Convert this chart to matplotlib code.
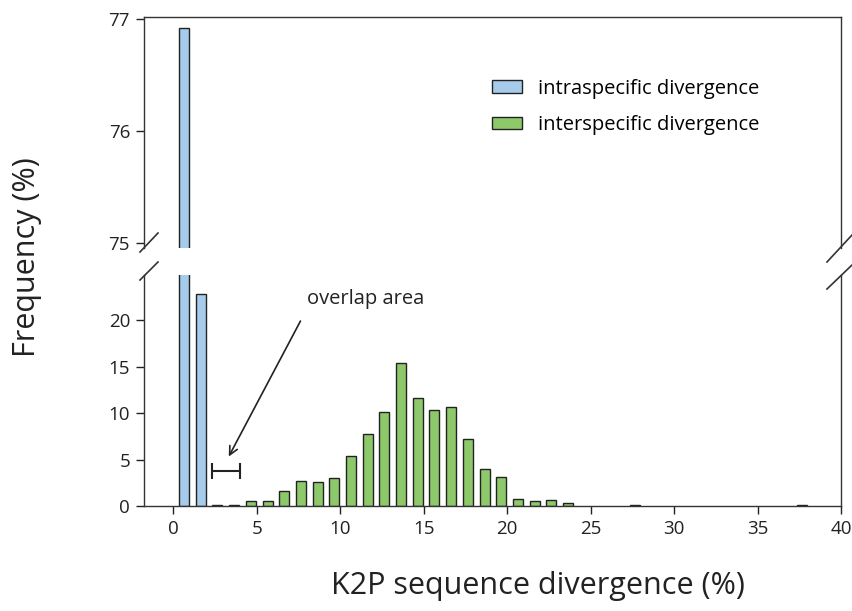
import numpy as np
import matplotlib
matplotlib.use('Agg')
import matplotlib.pyplot as plt
from matplotlib.lines import Line2D

plt.rcParams['font.family'] = ['Open Sans', 'DejaVu Sans']

# divergence bins (%), 1% wide
bins = np.arange(0, 40)

intra = np.zeros(40)
intra[0] = 76.92
intra[1] = 22.8

inter = np.zeros(40)
inter_vals = {2: 0.15, 3: 0.15, 4: 0.5, 5: 0.5, 6: 1.58, 7: 2.7, 8: 2.55, 9: 2.98,
              10: 5.43, 11: 7.77, 12: 10.1, 13: 15.44, 14: 11.66, 15: 10.4,
              16: 10.72, 17: 7.27, 18: 3.95, 19: 3.16, 20: 0.79, 21: 0.5,
              22: 0.65, 23: 0.36, 27: 0.12, 37: 0.12}
for k, v in inter_vals.items():
    inter[k] = v

blue = '#a7cbeb'
green = '#8dc96b'
W, H = 852, 611

fig = plt.figure(figsize=(W / 100, H / 100), dpi=100)
ax_top = fig.add_axes([144 / W, 1 - 248 / H, (841 - 144) / W, (248 - 17) / H])
ax_bot = fig.add_axes([144 / W, 1 - 506 / H, (841 - 144) / W, (506 - 275) / H])

m1 = intra > 0
m2 = inter > 0
for ax in (ax_top, ax_bot):
    ax.bar(bins[m1] + 0.65, intra[m1], width=0.6, color=blue, edgecolor='#222222', linewidth=1,
           label='intraspecific divergence')
    ax.bar(bins[m2] + 0.65, inter[m2], width=0.6, color=green, edgecolor='#222222', linewidth=1,
           label='interspecific divergence')
    ax.set_xlim(-1.75, 40)
    ax.tick_params(direction='out', length=6, width=1, labelsize=13.5, colors='#222222', pad=4)
    for s in ax.spines.values():
        s.set_linewidth(1)
        s.set_color('#333333')

ax_top.set_ylim(74.955, 77.02)
ax_top.set_yticks([75, 76, 77])
ax_top.spines['bottom'].set_visible(False)
ax_top.tick_params(axis='x', bottom=False, labelbottom=False)

ax_bot.set_ylim(0, 24.9)
ax_bot.set_yticks([0, 5, 10, 15, 20])
ax_bot.set_xticks(range(0, 41, 5))
ax_bot.spines['top'].set_visible(False)

# overlap bracket and arrow
ax_bot.errorbar([3.15], [3.74], xerr=[[0.83], [0.83]], fmt='none', ecolor='#222222',
                elinewidth=1.5, capsize=6, capthick=1.5)
ax_bot.annotate('', xy=(3.25, 5.07), xytext=(7.7, 20.2),
                arrowprops=dict(arrowstyle='->', color='#222222', lw=1.2,
                                mutation_scale=15))
ax_bot.text(8.0, 22.3, 'overlap area', fontsize=14.5, va='center', ha='left', color='#222222')

ax_top.legend(loc='upper left', bbox_to_anchor=(0.499, 0.733), frameon=False, fontsize=14.5,
              handlelength=1.5, handleheight=0.55, labelspacing=0.8, handletextpad=0.8,
              borderpad=0, borderaxespad=0)

# break marks
def slash(x0, y0, x1, y1):
    fig.add_artist(Line2D([x0 / W, x1 / W], [1 - y0 / H, 1 - y1 / H],
                          transform=fig.transFigure, color='#333333', lw=1.2))

slash(140, 252, 158, 233)
slash(140, 280, 158, 262)
slash(827, 262, 852, 235)
slash(827, 289, 852, 265)

fig.text(27 / W, 1 - 257 / H, 'Frequency (%)', rotation=90, fontsize=22,
         ha='center', va='center', color='#222222')
fig.text(538 / W, 1 - 586 / H, 'K2P sequence divergence (%)', fontsize=22,
         ha='center', va='center', color='#222222')

fig.savefig('out.png', dpi=100)
